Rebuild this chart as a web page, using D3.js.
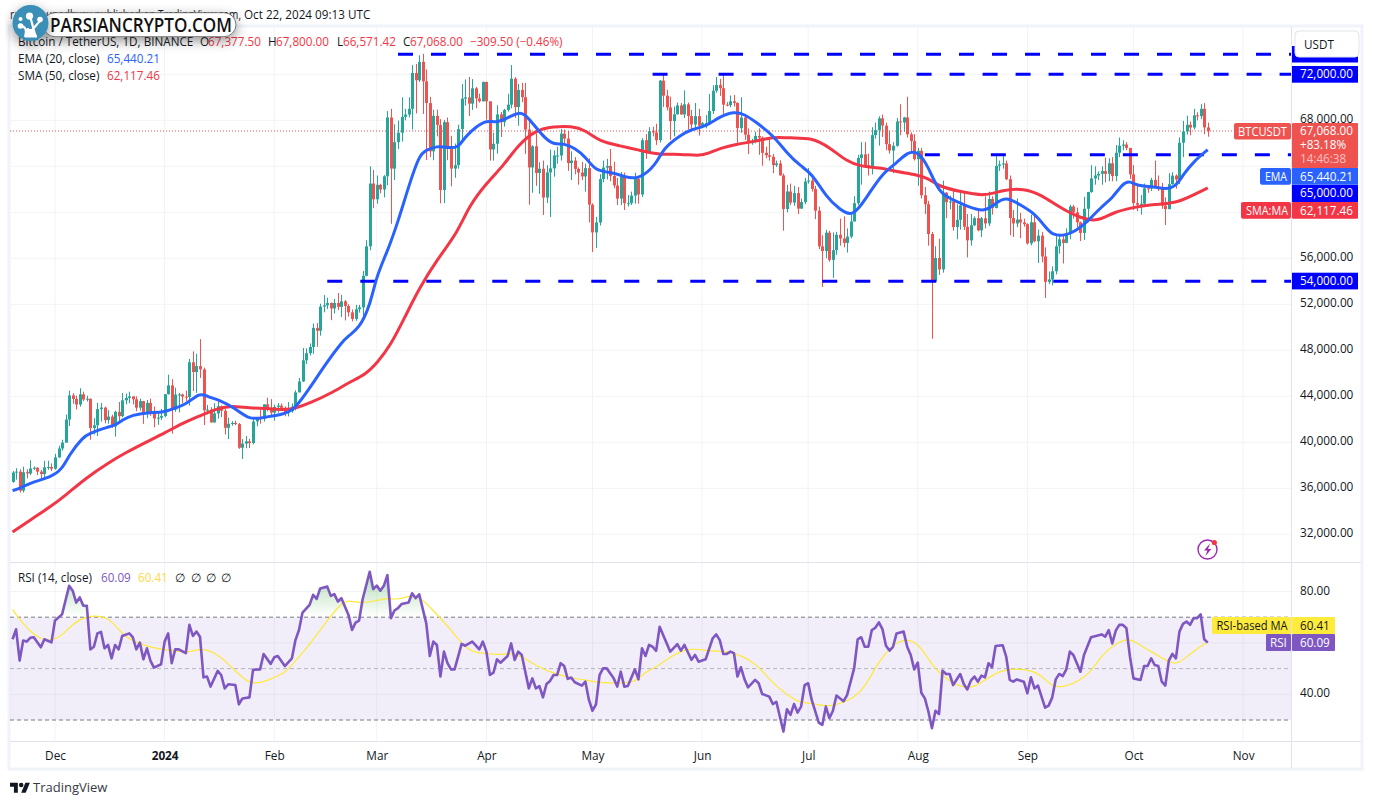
<!DOCTYPE html>
<html><head><meta charset="utf-8">
<script src="https://cdn.jsdelivr.net/npm/d3@7/dist/d3.min.js"></script>
<style>html,body{margin:0;padding:0;background:#fff}svg{display:block;font-family:"Open Sans","Noto Sans",sans-serif}</style>
</head><body><svg id="c" width="1373" height="804"></svg>
<script>
const firstDay = "2023-11-19";
const opens = [36560,37375,37450,35800,37400,37290,37720,37790,37450,37240,37820,37850,
37700,38690,39460,39970,41980,44080,43770,43280,44170,43720,43790,41240,41480,42880,43020,41930,42240,41370,42650,42270,43650,43860,43990,43740,43010,43580,42510,43430,42560,42070,42140,
42280,44180,44950,42850,44150,44160,43970,43930,46960,46110,46630,46340,42780,42840,41730,42510,43140,42740,41260,41610,41680,41580,39530,39890,40080,39930,41810,42120,42030,43300,42940,
42580,43080,43190,42990,42580,42700,43090,44340,45290,47130,47750,48290,49950,49700,51800,51910,52120,51640,52120,51780,52260,51850,51300,50730,51570,51730,54480,57040,62500,
61130,62390,61990,63130,68240,63800,66100,66920,68300,68500,69000,72120,71480,73080,71390,69500,65300,68390,67600,61940,67840,65500,63800,64100,67230,69880,69990,69450,70780,69900,69650,
71330,69650,65460,65960,68510,67840,68900,69360,71620,69150,70640,70010,67190,63900,65740,63420,63790,61280,63470,63820,64940,64940,66840,66410,64280,64500,63770,63460,63120,63840,
60670,58250,59120,62890,63890,64030,63160,62330,61190,63070,60790,60790,61450,62900,61550,66270,65230,67050,66940,66270,71450,70140,69120,67930,68520,69290,68510,69390,68370,67640,68360,
67530,67750,67760,68810,70570,71080,70790,69360,69310,69650,69510,67320,68240,66750,66010,66190,66640,66490,65170,64960,64830,64100,64250,63210,60280,61810,60840,61670,60320,60890,
62680,62760,62030,60140,57040,56630,58230,55860,56710,58050,57720,57340,57890,59200,60790,64720,65040,64090,63970,66710,67150,68170,67540,65930,65370,65780,67900,67810,68250,66780,66190,
64620,65350,61480,60700,58110,53990,56030,55030,61710,60880,60940,58710,59350,60600,58740,57560,58870,59490,58430,59480,59030,61160,60380,64040,64160,64250,62880,59500,59030,59370,59120,
58970,57300,59130,57480,57970,56160,53950,54160,54870,57050,57650,57340,58130,60500,60000,59130,58210,60310,61760,62950,63200,63350,63580,63340,64260,63150,65180,65790,65890,65600,
63300,60800,60650,60750,62090,62060,62820,62220,62130,60580,60270,62450,63190,62850,66050,67040,67610,67370,68430,68360,69000,67377];
const closes = [37375,37450,35800,37400,37290,37720,37790,37450,37240,37820,37850,37700,
38690,39460,39970,41980,44080,43770,43280,44170,43720,43790,41240,41480,42880,43020,41930,42240,41370,42650,42270,43650,43860,43990,43740,43010,43580,42510,43430,42560,42070,42140,42280,
44180,44950,42850,44150,44160,43970,43930,46960,46110,46630,46340,42780,42840,41730,42510,43140,42740,41260,41610,41680,41580,39530,39890,40080,39930,41810,42120,42030,43300,42940,42580,
43080,43190,42990,42580,42700,43090,44340,45290,47130,47750,48290,49950,49700,51800,51910,52120,51640,52120,51780,52260,51850,51300,50730,51570,51730,54480,57040,62500,61130,
62390,61990,63130,68240,63800,66100,66920,68300,68500,69000,72120,71480,73080,71390,69500,65300,68390,67600,61940,67840,65500,63800,64100,67230,69880,69990,69450,70780,69900,69650,71330,
69650,65460,65960,68510,67840,68900,69360,71620,69150,70640,70010,67190,63900,65740,63420,63790,61280,63470,63820,64940,64940,66840,66410,64280,64500,63770,63460,63120,63840,60670,
58250,59120,62890,63890,64030,63160,62330,61190,63070,60790,60790,61450,62900,61550,66270,65230,67050,66940,66270,71450,70140,69120,67930,68520,69290,68510,69390,68370,67640,68360,67530,
67750,67760,68810,70570,71080,70790,69360,69310,69650,69510,67320,68240,66750,66010,66190,66640,66490,65170,64960,64830,64100,64250,63210,60280,61810,60840,61670,60320,60890,62680,
62760,62030,60140,57040,56630,58230,55860,56710,58050,57720,57340,57890,59200,60790,64720,65040,64090,63970,66710,67150,68170,67540,65930,65370,65780,67900,67810,68250,66780,66190,64620,
65350,61480,60700,58110,53990,56030,55030,61710,60880,60940,58710,59350,60600,58740,57560,58870,59490,58430,59480,59030,61160,60380,64040,64160,64250,62880,59500,59030,59370,59120,58970,
57300,59130,57480,57970,56160,53950,54160,54870,57050,57650,57340,58130,60500,60000,59130,58210,60310,61760,62950,63200,63350,63580,63340,64260,63150,65180,65790,65890,65600,63300,
60800,60650,60750,62090,62060,62820,62220,62130,60580,60270,62450,63190,62850,66050,67040,67610,67370,68430,68360,69000,67377,67068];
const highs = [37500,37750,37650,37880,37650,38430,37900,37840,37600,38400,38400,38170,
39000,39700,40220,42420,44490,44280,44050,44700,44400,44050,43800,42100,43430,43420,43100,42800,42400,42750,43500,44280,44240,44400,44000,44000,43800,43600,43680,43800,43120,42600,42900,
44180,45880,45500,44750,44300,44230,44500,47250,47900,47700,48970,46500,43250,43050,43400,43580,43200,42930,42150,41840,41880,41680,40280,40550,40300,42200,42200,42840,43300,43880,43750,
43280,43420,43380,43120,43500,43380,44520,45600,48200,48170,48590,50330,50370,52050,52800,52570,52160,52470,52980,52830,52380,52000,51550,51950,51950,54900,57570,64000,63680,
63200,62480,63230,68800,69000,67650,67980,70000,69000,70000,72800,72900,73650,73780,72420,70040,68920,68930,68100,68030,68240,66650,65980,67620,71150,71560,71770,71580,70900,70320,71370,
71370,69650,66900,69300,68720,69000,70300,72800,71750,71170,71260,71250,67930,65830,66870,64350,64500,64100,65450,65380,65700,67230,67200,67070,65300,64800,63900,64370,64230,64700,
60780,59600,63320,64500,64650,65500,64400,63000,63500,63450,61500,61800,63450,63000,66450,66800,67400,67450,67700,71500,71970,70650,70050,69200,69550,69500,70600,69550,68900,69500,69000,
67850,68450,70280,71050,71760,71600,71980,69580,70150,70200,69560,70000,68450,67300,66400,67000,67300,66600,65700,66480,65070,64500,64520,63370,62400,62500,62300,62200,61200,63000,
63850,63250,62300,60500,58000,58470,58400,58250,58300,59450,59650,58600,59900,61400,65000,66100,66100,65100,67400,67800,68350,68500,67800,67100,66100,68200,69400,68300,70050,66950,66800,
65600,65600,62200,61000,58300,57050,57700,62750,61750,61450,61850,60700,61800,61700,59850,59850,59650,60250,59600,61400,61800,61400,64950,64500,65000,64500,63200,60200,61200,59950,59450,
59050,59800,59800,58500,58300,56950,54850,55300,58100,58050,58000,58600,60650,60650,60400,59200,61350,61780,64100,64000,63550,64000,64750,64700,64800,65850,66500,66260,66100,65600,
64100,62400,61500,62500,62370,63000,64500,63200,62550,61300,63400,63480,63300,66500,67950,68400,67900,69000,68700,69400,69500,67800];
const lows = [36480,36750,35630,35630,36870,37150,37600,37150,36700,36880,37600,37500,
37620,38650,39280,39960,41420,43350,42850,43100,43580,43550,40220,40680,40550,41800,41650,41620,41250,40500,41800,42170,43300,43400,43300,42700,42750,41600,42100,42300,41300,41520,41950,
42180,44150,40750,42650,42600,43400,43600,43200,44450,44300,45600,41500,42440,41700,41700,42050,42200,40680,40280,41440,41500,39430,38550,39480,39500,39830,41400,41620,41800,42680,42280,
41880,42580,42880,42260,42250,42570,42780,44330,45240,46800,47550,47700,48300,49270,51300,51600,50620,51200,51500,50900,50600,50930,50520,50570,51280,50900,54440,56700,60360,
60750,61650,61300,62350,59000,62800,65500,66150,68000,68250,67200,68600,71330,68550,64550,64800,64530,66600,60780,60800,64530,62260,63000,63790,66380,69280,68370,68900,69050,69540,69630,
68060,64490,64490,65100,66550,67450,68750,69040,68210,67520,69570,65080,60660,61700,62300,61600,59770,60800,59600,63100,64230,64500,65800,63600,62800,63300,62400,62800,61800,59120,
56550,56900,58850,62600,62850,62700,62100,60630,60630,60200,60500,60630,60750,60750,61330,64650,65100,66600,65860,66060,69160,68850,66300,66600,68500,68470,68200,67200,67100,67130,66670,
67400,67300,67600,68550,70400,70120,68500,69210,69130,69200,66050,66900,66300,65060,65870,66000,65000,64060,64700,64500,63400,63940,63180,58400,60000,60650,60560,59850,60300,60700,
62500,61800,59400,56800,53500,56000,55700,54300,56300,57100,56950,56500,57750,59200,60630,62400,63900,63200,63300,66400,65800,66550,65400,65100,63400,65700,66700,67000,66500,65300,64500,
62300,61200,59850,57100,49000,53950,54550,54750,59500,60250,58400,57650,58500,58450,56080,57100,58800,58350,57850,58600,58800,59800,60350,63600,63800,62800,58000,57850,58700,57750,58750,
57200,57120,57400,55600,55650,52550,53750,53650,54600,56400,55550,57300,57650,59450,58700,57500,57600,59200,61700,62400,62800,62400,62600,62700,62700,62700,64800,65400,65400,62900,
60200,60100,59800,60450,61700,61850,62100,61850,60300,58900,60400,62400,62050,62450,64800,66750,66700,67200,68000,68100,66800,66571];

const emaDays = [0,2,6,11,14,16,20,22,25,29,31,34,38,43,45,49,53,55,59,63,67,71,77,80,84,89,93,95,98,101,103,106,109,112,115,117,120,123,126,128,131,134,137,141,144,146,150,153,156,159,162,165,169,173,177,182,184,189,192,196,200,204,207,210,215,219,223,226,230,234,237,239,242,246,250,253,256,259,262,266,270,275,278,281,285,289,292,294,298,301,303,308,311,314,316,318,323,326,329,331,334,338];
const emaValues = [35800,36000,36580,37010,37650,38900,40490,40780,41160,41450,41940,42380,42580,42610,42900,43250,44350,43970,43620,42960,41940,42170,42440,42957,44696,47010,48660,49270,49910,51790,54550,56570,59180,62240,64990,65420,65770,65630,65570,66590,67400,68030,67740,68380,68760,68180,66590,65860,66000,65570,64850,63540,63540,63100,62820,64120,65570,66730,67220,67450,68320,68760,68530,67890,66730,65130,63980,63400,61370,60210,59740,60210,61510,63400,64270,65220,65340,63980,61660,61080,60500,60000,60790,61370,60640,59920,58760,58000,57970,58470,58900,60500,61220,62530,62730,62290,62230,62000,62230,63250,64410,65440];
const smaDays = [0,5,11,15,21,27,32,38,43,48,53,58,62,67,72,77,80,84,90,95,100,103,107,111,115,120,126,129,134,139,143,148,153,158,162,166,172,177,183,189,194,197,200,205,210,215,220,226,231,236,240,245,250,256,259,262,268,275,280,286,291,296,302,307,311,317,323,329,334,338];
const smaValues = [32200,33250,34450,35400,36950,38200,39100,40050,40800,41650,42300,42960,43190,42960,42960,42810,42957,43390,44260,45180,45940,46870,48460,50920,53390,55860,58320,60500,62530,64120,65860,67160,67450,67510,67160,66150,65770,65420,64990,65080,64900,65130,65570,65950,66150,66580,66440,66500,65660,64410,63980,63890,63540,63250,62960,62240,61800,61370,61950,62090,61510,60440,59480,59190,59970,60440,60700,60790,61510,62117];
const rsiDays = [0,1,2,3,4,5,6,8,9,11,12,14,16,17,18,19,20,21,22,23,24,25,26,27,28,29,30,31,33,34,35,36,37,38,39,40,42,43,44,45,46,47,49,50,51,52,53,54,55,56,58,59,60,61,63,64,65,67,68,70,71,73,74,75,77,79,80,81,82,84,85,86,87,89,90,91,92,93,95,96,97,98,99,101,102,103,104,105,106,107,108,109,110,112,113,114,115,117,118,119,120,121,122,123,124,125,127,128,130,132,133,134,135,136,137,138,140,141,142,143,144,146,147,148,149,150,151,152,153,154,155,156,157,158,159,161,162,163,164,165,166,167,168,170,171,172,173,174,176,177,178,179,180,181,182,183,186,188,189,190,192,193,194,196,198,199,200,201,202,203,204,205,206,207,208,210,211,212,214,215,216,218,219,220,221,222,223,224,225,226,228,229,230,231,232,233,235,236,238,239,240,241,242,243,244,245,246,247,248,249,250,252,253,254,255,256,257,258,259,260,261,262,263,264,265,266,268,269,270,271,272,273,274,275,276,277,278,280,281,282,283,284,286,287,288,289,290,292,293,294,295,296,297,298,299,300,302,303,305,308,309,310,311,312,313,314,315,316,317,319,320,321,322,323,324,325,326,327,328,329,330,331,332,333,334,335,336,337,338];
const rsiValues = [61.4,65.3,53.1,60.9,60.5,62,62.2,58.3,61.4,60.2,68.7,71.1,82.2,80.3,75.7,77.7,74.5,74.4,57.5,58.5,63.7,64.3,57.9,59.2,54,59.2,57.5,62.7,63.7,62.2,57.5,60.1,53.6,57.9,53,50.4,51.7,60.5,63.7,52.1,57.5,57.5,56,67,62.7,64.4,62.4,46.6,46.9,43,49.1,47.5,42.3,43.9,43.6,36.1,38.4,38.8,49.5,49.7,55.7,51.8,54.4,54.9,51,54,61.1,65,71.8,74.8,78.7,77.1,81.2,81.9,78.3,79,76.1,77.4,70.9,65,67.9,68.7,77,87.7,80.9,82.3,80.3,82.2,86.4,69.6,72.6,73.5,75.1,75.7,79.3,77.4,78.9,67.6,54.9,60.5,59.2,46.9,56.6,52.1,49.7,49.7,59.6,58.9,60.5,57.5,60.5,56.6,47.5,48.4,53.6,52.3,54.9,59.8,53.4,56.6,55.3,42.3,46.2,42.3,43.2,38.8,44,45.2,47.5,47.5,52.1,51,46,46.5,44.7,43.4,44.9,37.8,33.6,36.1,47.5,50.1,50.1,46.2,43,48.8,43,43.2,49.7,45.8,57.9,54.9,59.2,58.5,56.9,66.3,56.6,59.5,57,59.2,53.4,55.3,52.7,53.6,61.8,63.3,61.1,55.7,55.7,56.6,56,46.9,50.5,45.8,42.7,45.6,44.3,40.1,39.1,36.2,37.1,25.5,34.2,32,36.2,32.9,35.2,43.6,44.3,37.8,29,28.1,35.2,30.7,33.6,39.5,37.3,39.7,50.1,61.4,62.2,58.5,58.5,65,65.9,68,65.4,58.9,57,58.5,63.7,64.4,58.5,55.3,49.7,52.3,40.6,38.4,33.3,26.8,33.6,32.3,49.2,47.9,47.9,43.6,47.9,44,41.9,45.3,46.9,44.9,47.3,46.6,52.1,50.5,58.8,59.1,54.7,45.6,44.9,45.8,44.9,40.4,46.6,42.3,43.4,34.8,35.6,38.7,45.8,47.9,47.1,49.7,56.6,55.3,48.8,55.3,62.2,63.3,62.4,65,59.8,64.8,67,67,65.7,54.7,46.2,45.6,51,51,54,51.4,51,44.9,43.4,53.1,55.7,54,64.4,67.4,68.3,67,69.6,69.6,71.1,61.4,60.09];
const rsiMaDays = [0,1,3,5,8,11,14,17,21,25,28,31,35,39,43,46,49,53,57,62,67,72,77,79,84,89,93,95,98,103,106,109,113,116,121,124,127,130,134,137,141,144,148,153,158,162,166,171,176,179,182,185,191,197,203,210,214,219,223,227,230,237,241,245,251,256,260,263,270,275,280,287,291,294,298,302,305,308,312,316,320,324,329,333,338];
const rsiMaValues = [73.1,70.9,67.6,64.4,61.4,60.9,62.7,67.6,70.5,70.5,68.9,63.1,60.1,58.3,57.3,57,56,57.9,56.6,50.8,43.2,45.3,48.2,51.4,59.2,68.9,75.4,76.7,75.4,76.4,77.4,76.7,78.9,77,69.6,65,59.8,56.2,56,55.3,56,54.9,51,48.2,46.2,45.6,44.5,44.3,44.5,48.8,50.5,53.6,58.5,56.6,56.9,52.7,45.6,39.7,36.5,36.5,34.9,37.5,42.3,53.4,62.2,60.5,51.4,46.9,41,45.6,49.9,49.9,47.5,42.6,43,45.6,48.8,55.3,59.8,62.2,57.9,55.3,50.4,56,60.41];
const monthStarts = ["2023-12-01","2024-01-01","2024-02-01","2024-03-01","2024-04-01","2024-05-01","2024-06-01","2024-07-01","2024-08-01","2024-09-01","2024-10-01","2024-11-01"];
const monthLabels = ["Dec","2024","Feb","Mar","Apr","May","Jun","Jul","Aug","Sep","Oct","Nov"];
const priceGrid = [72000,68000,64000,60000,56000,52000,48000,44000,40000,36000,32000];
const priceTicks = [68000,56000,52000,48000,44000,40000,36000,32000];
const rsiGrid = [80,60,40];
const rsiTicks = [80,40];
const rsiGuides = [70,50,30];
// level lines: price and the date each one starts on
const levelPrices = [73750,72000,65000,54000];
const levelStarts = ["2024-03-07","2024-05-18","2024-08-03","2024-02-16"];

const GREEN="#26a69a",RED="#ef5350",BLUE="#2962ff",SMA="#f23645",PUR="#7e57c2",YEL="#ffeb3b",LEVEL="#0000ff",GRID="#f2f3f7",BORDER="#e0e3eb",INK="#131722";
const svg=d3.select("#c");
const defs=svg.append("defs");
const L=10,R=1291,T=27,M=562.5,B=741;
defs.append("clipPath").attr("id","pc").append("rect").attr("x",L).attr("y",T).attr("width",R-L).attr("height",M-T);
defs.append("clipPath").attr("id","rc").append("rect").attr("x",L).attr("y",M).attr("width",R-L).attr("height",B-M);
const sh=defs.append("filter").attr("id","sh").attr("x","-20%").attr("y","-60%").attr("width","140%").attr("height","240%");
sh.append("feDropShadow").attr("dx",0).attr("dy",4).attr("stdDeviation",6).attr("flood-color","#000").attr("flood-opacity",.42);

const utc=s=>new Date(s+"T00:00:00Z");
const x=d3.scaleUtc().domain([utc("2023-12-01"),utc("2024-11-01")]).range([55,1243.1]);
const dayX=i=>x(d3.utcDay.offset(utc(firstDay),i));
const y=d3.scaleLinear().domain([36000,72000]).range([488.3,74.3]);
const yr=d3.scaleLinear().domain([40,80]).range([694.3,591.5]);
const dates=monthStarts.map(utc);

// frame + grid
svg.append("rect").attr("x",9).attr("y",26).attr("width",1353).attr("height",743).attr("fill","#fff").attr("stroke","#f0f3fa").attr("stroke-width",3);
const grid=svg.append("g").attr("stroke",GRID);
grid.selectAll(".v").data(dates).join("line").attr("x1",d=>x(d)).attr("x2",d=>x(d)).attr("y1",T).attr("y2",B);
grid.selectAll(".h").data(priceGrid).join("line").attr("x1",L).attr("x2",R).attr("y1",d=>y(d)).attr("y2",d=>y(d));
grid.selectAll(".r").data(rsiGrid).join("line").attr("x1",L).attr("x2",R).attr("y1",d=>yr(d)).attr("y2",d=>yr(d));

// RSI band
svg.append("rect").attr("x",L).attr("width",R-L).attr("y",yr(70)).attr("height",yr(30)-yr(70)).attr("fill",PUR).attr("fill-opacity",.1);
svg.append("g").selectAll("line").data(rsiGuides).join("line").attr("x1",L).attr("x2",R).attr("y1",d=>yr(d)).attr("y2",d=>yr(d))
  .attr("stroke",d=>d===50?"#b2b5be":"#787b86").attr("stroke-dasharray","4 3");

// candles
const pg=svg.append("g").attr("clip-path","url(#pc)");
const idx=d3.range(closes.length);
pg.append("line").attr("x1",L).attr("x2",R).attr("y1",y(closes[closes.length-1])).attr("y2",y(closes[closes.length-1])).attr("stroke",RED).attr("stroke-dasharray","1 2");
pg.append("g").selectAll("line").data(idx).join("line").attr("x1",i=>Math.round(dayX(i))+.5).attr("x2",i=>Math.round(dayX(i))+.5)
  .attr("y1",i=>y(highs[i])).attr("y2",i=>y(lows[i])).attr("stroke",i=>closes[i]>=opens[i]?GREEN:RED);
pg.append("g").selectAll("rect").data(idx).join("rect").attr("x",i=>Math.round(dayX(i))-1).attr("width",3)
  .attr("y",i=>y(Math.max(opens[i],closes[i]))).attr("height",i=>Math.max(1,Math.abs(y(opens[i])-y(closes[i]))))
  .attr("fill",i=>closes[i]>=opens[i]?GREEN:RED);

// level lines
pg.append("g").selectAll("line").data(levelPrices).join("line")
  .attr("x1",(d,i)=>x(utc(levelStarts[i]))).attr("x2",R).attr("y1",d=>y(d)).attr("y2",d=>y(d))
  .attr("stroke",LEVEL).attr("stroke-width",3).attr("stroke-dasharray","15 18");

// EMA / SMA
const mk=(days,vals,yy,curve)=>d3.line().x((d,i)=>dayX(days[i])).y(d=>yy(d)).curve(curve)(vals);
pg.append("path").attr("d",mk(smaDays,smaValues,y,d3.curveBasis)).attr("fill","none").attr("stroke",SMA).attr("stroke-width",3);
pg.append("path").attr("d",mk(emaDays,emaValues,y,d3.curveBasis)).attr("fill","none").attr("stroke",BLUE).attr("stroke-width",3);

// RSI
const rg=svg.append("g").attr("clip-path","url(#rc)");
const grad=defs.append("linearGradient").attr("id","ob").attr("gradientUnits","userSpaceOnUse").attr("x1",0).attr("x2",0).attr("y1",yr(90)).attr("y2",yr(70));
grad.append("stop").attr("offset",0).attr("stop-color","#4caf50").attr("stop-opacity",.5);
grad.append("stop").attr("offset",1).attr("stop-color","#4caf50").attr("stop-opacity",0);
defs.append("clipPath").attr("id","obc").append("rect").attr("x",L).attr("y",M).attr("width",R-L).attr("height",yr(70)-M);
rg.append("g").attr("clip-path","url(#obc)").append("path")
  .attr("d",d3.area().x((d,i)=>dayX(rsiDays[i])).y1(d=>yr(d)).y0(yr(70))(rsiValues)).attr("fill","url(#ob)");
rg.append("path").attr("d",mk(rsiMaDays,rsiMaValues,yr,d3.curveBasis)).attr("fill","none").attr("stroke","#ffe83a").attr("stroke-width",1.2);
rg.append("path").attr("d",mk(rsiDays,rsiValues,yr,d3.curveLinear)).attr("fill","none").attr("stroke",PUR).attr("stroke-width",2.6).attr("stroke-linejoin","round");

// dividers
const div=svg.append("g").attr("stroke",BORDER).attr("shape-rendering","crispEdges");
div.append("line").attr("x1",L).attr("x2",1361).attr("y1",562).attr("y2",562);
div.append("line").attr("x1",L).attr("x2",1361).attr("y1",741).attr("y2",741);
div.append("line").attr("x1",1291).attr("x2",1291).attr("y1",T).attr("y2",768);

// axes
const ax=svg.append("g").attr("transform",`translate(${R},-1.6)`).call(d3.axisRight(y).tickValues(priceTicks).tickSize(0).tickPadding(9).tickFormat(d3.format(",.2f")));
const ax2=svg.append("g").attr("transform",`translate(${R},-1.2)`).call(d3.axisRight(yr).tickValues(rsiTicks).tickSize(0).tickPadding(9).tickFormat(d3.format(".2f")));
const ax3=svg.append("g").attr("transform",`translate(0,${B+15})`).call(d3.axisBottom(x).tickValues(dates).tickSize(0).tickPadding(0).tickFormat((d,i)=>monthLabels[i]));
[ax,ax2,ax3].forEach(a=>{a.select(".domain").remove();a.selectAll("text").attr("font-size",11.8).attr("font-family",'"Open Sans"').attr("fill",INK);});
ax3.selectAll("text").attr("dy","0.35em").attr("font-weight",(d,i)=>monthLabels[i]==="2024"?700:400);

function text(px,py,s,o={}){const t=svg.append("text").attr("x",px).attr("y",py).attr("dy","0.35em").attr("font-size",o.size||11.7).attr("fill",o.fill||INK)
  .attr("font-weight",o.weight||400).attr("text-anchor",o.anchor||"start").attr("fill-opacity",o.op||1).text(s);
  if(o.len)t.attr("textLength",o.len).attr("lengthAdjust","spacingAndGlyphs");return t;}
function box(x0,y0,w,h,fill,r=0){return svg.append("rect").attr("x",x0).attr("y",y0).attr("width",w).attr("height",h).attr("fill",fill).attr("rx",r);}

// price badges
box(1292,46,66,16.5,LEVEL);
box(1295,31,64,26,"#fff",4).attr("stroke",BORDER);
text(1304,44.5,"USDT");
box(1292,66,66,16.7,LEVEL); text(1300,74.3,"72,000.00",{fill:"#fff"});
box(1292,272.7,66,16.7,LEVEL); text(1300,280.8,"54,000.00",{fill:"#fff"});
box(1292,123,66,45,RED,1); text(1300,131,"67,068.00",{fill:"#fff"}); text(1300,145,"+83.18%",{fill:"#fff"}); text(1300,159,"14:46:38",{fill:"#fff",op:.65});
box(1234,123,57,16.6,RED,2); text(1238,131.5,"BTCUSDT",{fill:"#fff",len:49});
box(1260,168,31,16.8,BLUE,2); text(1265,176.5,"EMA",{fill:"#fff",len:22});
box(1292,168,66,16.8,BLUE); text(1300,176.5,"65,440.21",{fill:"#fff"});
box(1292,185,66,17,LEVEL); text(1300,193,"65,000.00",{fill:"#fff"});
box(1241,202,50,16.8,SMA,2); text(1246,210.5,"SMA:MA",{fill:"#fff",len:42});
box(1292,202,66,16.8,SMA,1); text(1300,210.5,"62,117.46",{fill:"#fff"});
// RSI badges
box(1212,617,79,17,YEL,1); text(1216.5,625.5,"RSI-based MA",{len:71});
box(1292,617,43,17,YEL,1); text(1300,625.5,"60.41");
box(1266,634,25,17,PUR,1); text(1270,642.5,"RSI",{fill:"#fff"});
box(1292,634,43,17,PUR,1); text(1300,642.5,"60.09",{fill:"#fff"});

// legends
text(10,14.5,"rakesh_upadhyay published on TradingView.com,",{len:231});
text(244,14.5,"Oct 22, 2024 09:13 UTC");
const D="#f23645";
text(18,42,"Bitcoin / TetherUS, 1D, BINANCE");
text(200,42,"O"); text(208,42,"67,377.50",{fill:D});
text(268,42,"H"); text(276,42,"67,800.00",{fill:D});
text(337,42,"L"); text(343,42,"66,571.42",{fill:D});
text(403,42,"C"); text(410,42,"67,068.00",{fill:D});
text(470,42,"−309.50 (−0.46%)",{fill:D});
text(18,59,"EMA (20, close)"); text(107,59,"65,440.21",{fill:BLUE});
text(18,76,"SMA (50, close)"); text(107,76,"62,117.46",{fill:D});
text(18,578,"RSI (14, close)"); text(101,578,"60.09",{fill:PUR}); text(138,578,"60.41",{fill:"#fbd94a"});
[175,191,206,221].forEach(px=>text(px,578,"∅"));

// icon
const ic=svg.append("g");
ic.append("circle").attr("cx",1207.5).attr("cy",549.5).attr("r",9.5).attr("fill","#fff").attr("stroke","#9c27b0").attr("stroke-width",1.4);
ic.append("path").attr("d","M1210 543.5l-6 7h3.4l-2 5.5 6-7h-3.4z").attr("fill","#9c27b0");
ic.append("circle").attr("cx",1214.3).attr("cy",542.5).attr("r",2.6).attr("fill","#f23645");

// logo
const lg=svg.append("g");
lg.append("rect").attr("x",43).attr("y",12.7).attr("width",193).attr("height",24).attr("rx",12).attr("fill","#fff").attr("stroke","#555").attr("stroke-width",.8).attr("filter","url(#sh)");
lg.append("circle").attr("cx",30.5).attr("cy",23).attr("r",18).attr("fill","#3a8fb7").attr("filter","url(#sh)");
lg.append("path").attr("d","M25 37 C27 30 26 27 20 25 M36 37 C33 30 33 24 30 17 M32 30 C35 27 37 24 40 21 M27 37 L28 28").attr("stroke","#fff").attr("stroke-width",2.2).attr("fill","none");
lg.append("path").attr("d","M25 35h12v2.5H25z M27 29h7v7h-7z").attr("fill","#fff");
[[29.5,16,3.6],[40,19.5,2.8],[20.5,26,2.8],[20.5,19,2]].forEach(c=>lg.append("circle").attr("cx",c[0]).attr("cy",c[1]).attr("r",c[2]).attr("fill","#fff"));
lg.append("text").attr("x",50).attr("y",25.5).attr("dy","0.35em").attr("font-size",19).attr("font-weight",600).attr("textLength",182).attr("lengthAdjust","spacingAndGlyphs").attr("fill","#111").text("PARSIANCRYPTO.COM");

// TradingView mark
const tv=svg.append("g").attr("transform","translate(10,780.5) scale(.56)").attr("fill","#131722");
tv.append("path").attr("d","M14 22H7V11H0V4h14v18zM28 22h-8l7.5-18h8L28 22z");
tv.append("circle").attr("cx",20).attr("cy",8).attr("r",4);
text(33,787,"TradingView",{size:13,fill:"#363a45"});
</script></body></html>
